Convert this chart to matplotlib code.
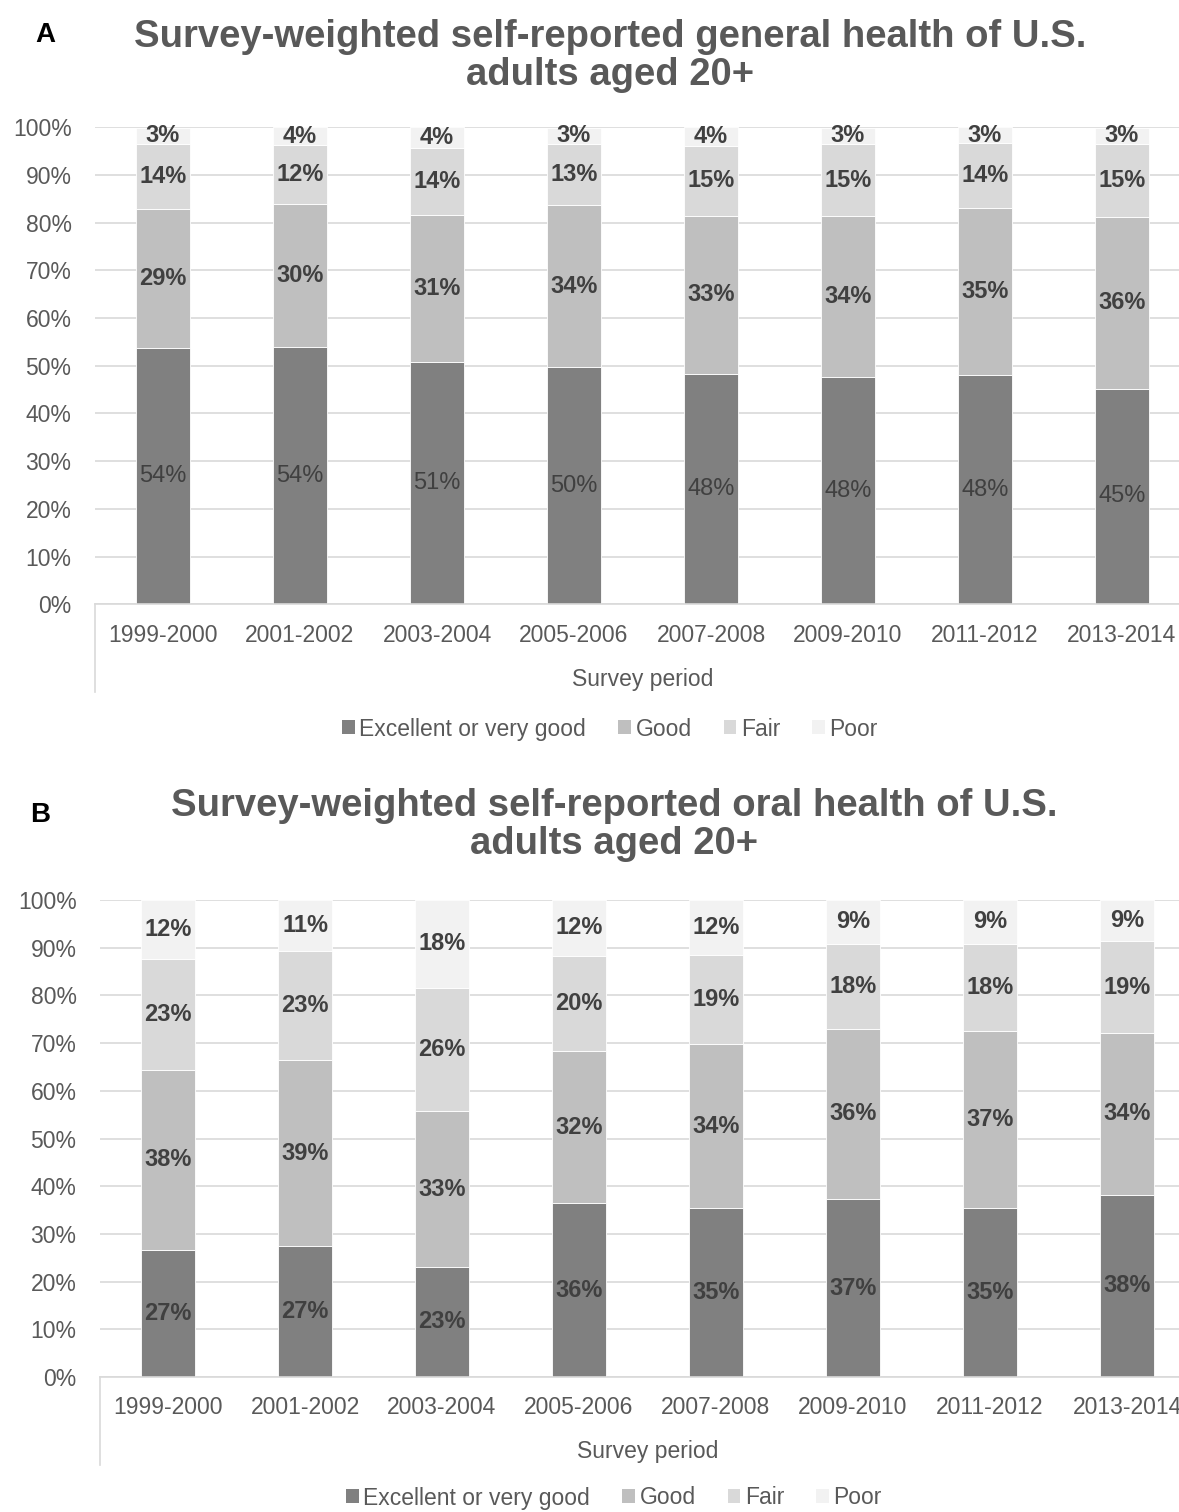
import matplotlib
matplotlib.use('Agg')
import matplotlib.pyplot as plt
from matplotlib.patches import Patch
import numpy as np

plt.rcParams['font.family'] = ['Liberation Sans', 'DejaVu Sans']

periods = ['1999-2000', '2001-2002', '2003-2004', '2005-2006',
           '2007-2008', '2009-2010', '2011-2012', '2013-2014']
categories = ['Excellent or very good', 'Good', 'Fair', 'Poor']

# A: general health (%)
general_excellent = [53.8, 54.0, 50.7, 49.7, 48.3, 47.7, 48.1, 45.2]
general_good = [29.1, 29.9, 30.9, 34.0, 33.1, 33.7, 35.0, 36.0]
general_fair = [13.6, 12.4, 14.1, 12.8, 14.7, 15.1, 13.6, 15.3]
general_poor = [3.4, 3.7, 4.3, 3.4, 3.9, 3.4, 3.3, 3.4]

# B: oral health (%)
oral_excellent = [26.7, 27.4, 23.1, 36.4, 35.4, 37.3, 35.4, 38.2]
oral_good = [37.7, 39.1, 32.6, 31.9, 34.4, 35.7, 37.1, 33.9]
oral_fair = [23.2, 22.8, 25.9, 20.0, 18.6, 17.8, 18.3, 19.3]
oral_poor = [12.4, 10.7, 18.4, 11.7, 11.6, 9.2, 9.2, 8.6]

colors = ['#808080', '#bfbfbf', '#d9d9d9', '#f2f2f2']
text_grey = '#595959'
label_grey = '#404040'
grid_grey = '#d9d9d9'

W, H = 1179, 1512
fig = plt.figure(figsize=(W / 100, H / 100), dpi=100)


def stacked_panel(rect, series, first_bold, title, title_y, letter, letter_xy, legend_y, legend_x):
    l, b, w, h = rect
    ax = fig.add_axes([l / W, b / H, w / W, h / H])
    x = np.arange(len(periods))
    bottom = np.zeros(len(periods))
    for i, vals in enumerate(series):
        vals = np.array(vals)
        bars = ax.bar(x, vals, 0.4, bottom=bottom, color=colors[i],
                      edgecolor='white', linewidth=0.6, zorder=2)
        labs = [f'{v:.0f}%' for v in vals]
        weight = 'bold' if (i > 0 or first_bold) else 'normal'
        ax.bar_label(bars, labels=labs, label_type='center', fontsize=17,
                     color=label_grey, fontweight=weight)
        bottom += vals
    ax.set_xlim(-0.5, len(periods) - 0.5)
    ax.set_ylim(0, 100)
    ax.set_yticks(np.arange(0, 101, 10))
    ax.set_yticklabels([f'{t}%' for t in range(0, 101, 10)])
    ax.set_xticks(x)
    ax.set_xticklabels(periods)
    ax.tick_params(axis='both', length=0, labelsize=16.5, labelcolor=text_grey)
    ax.tick_params(axis='y', pad=16.5)
    ax.tick_params(axis='x', pad=14)
    ax.grid(axis='y', color=grid_grey, linewidth=1.2, zorder=0)
    ax.set_axisbelow(True)
    for s in ['top', 'right', 'left']:
        ax.spines[s].set_visible(False)
    ax.spines['bottom'].set_color(grid_grey)
    ax.spines['bottom'].set_linewidth(1.2)
    ax.set_xlabel('Survey period', fontsize=16.5, color=text_grey, labelpad=15)
    ax.plot([0, 0], [0, -88 / h], transform=ax.transAxes, color=grid_grey,
            linewidth=1.2, clip_on=False)

    fig.text(legend_x / W, 1 - title_y / H, title, ha='center', va='center',
             fontsize=27.5, fontweight='bold', color=text_grey, linespacing=1.05)
    fig.text(letter_xy[0] / W, 1 - letter_xy[1] / H, letter, ha='center', va='center',
             fontsize=20, fontweight='bold', color='black')
    handles = [Patch(facecolor=c, edgecolor='none') for c in colors]
    fig.legend(handles, categories, loc='center', bbox_to_anchor=(legend_x / W, 1 - legend_y / H),
               ncol=4, frameon=False, fontsize=16.5, labelcolor=text_grey,
               handlelength=0.55, handleheight=0.55, handletextpad=0.2, columnspacing=1.4)
    return ax


stacked_panel((94.5, H - 604.3, 1096, 477),
              [general_excellent, general_good, general_fair, general_poor], False,
              'Survey-weighted self-reported general health of U.S.\nadults aged 20+',
              56, 'A', (45, 35), 729, 610)
stacked_panel((99.5, H - 1377, 1096, 477),
              [oral_excellent, oral_good, oral_fair, oral_poor], True,
              'Survey-weighted self-reported oral health of U.S.\nadults aged 20+',
              825, 'B', (40, 815), 1498, 614)

fig.savefig('out.png', dpi=100)
